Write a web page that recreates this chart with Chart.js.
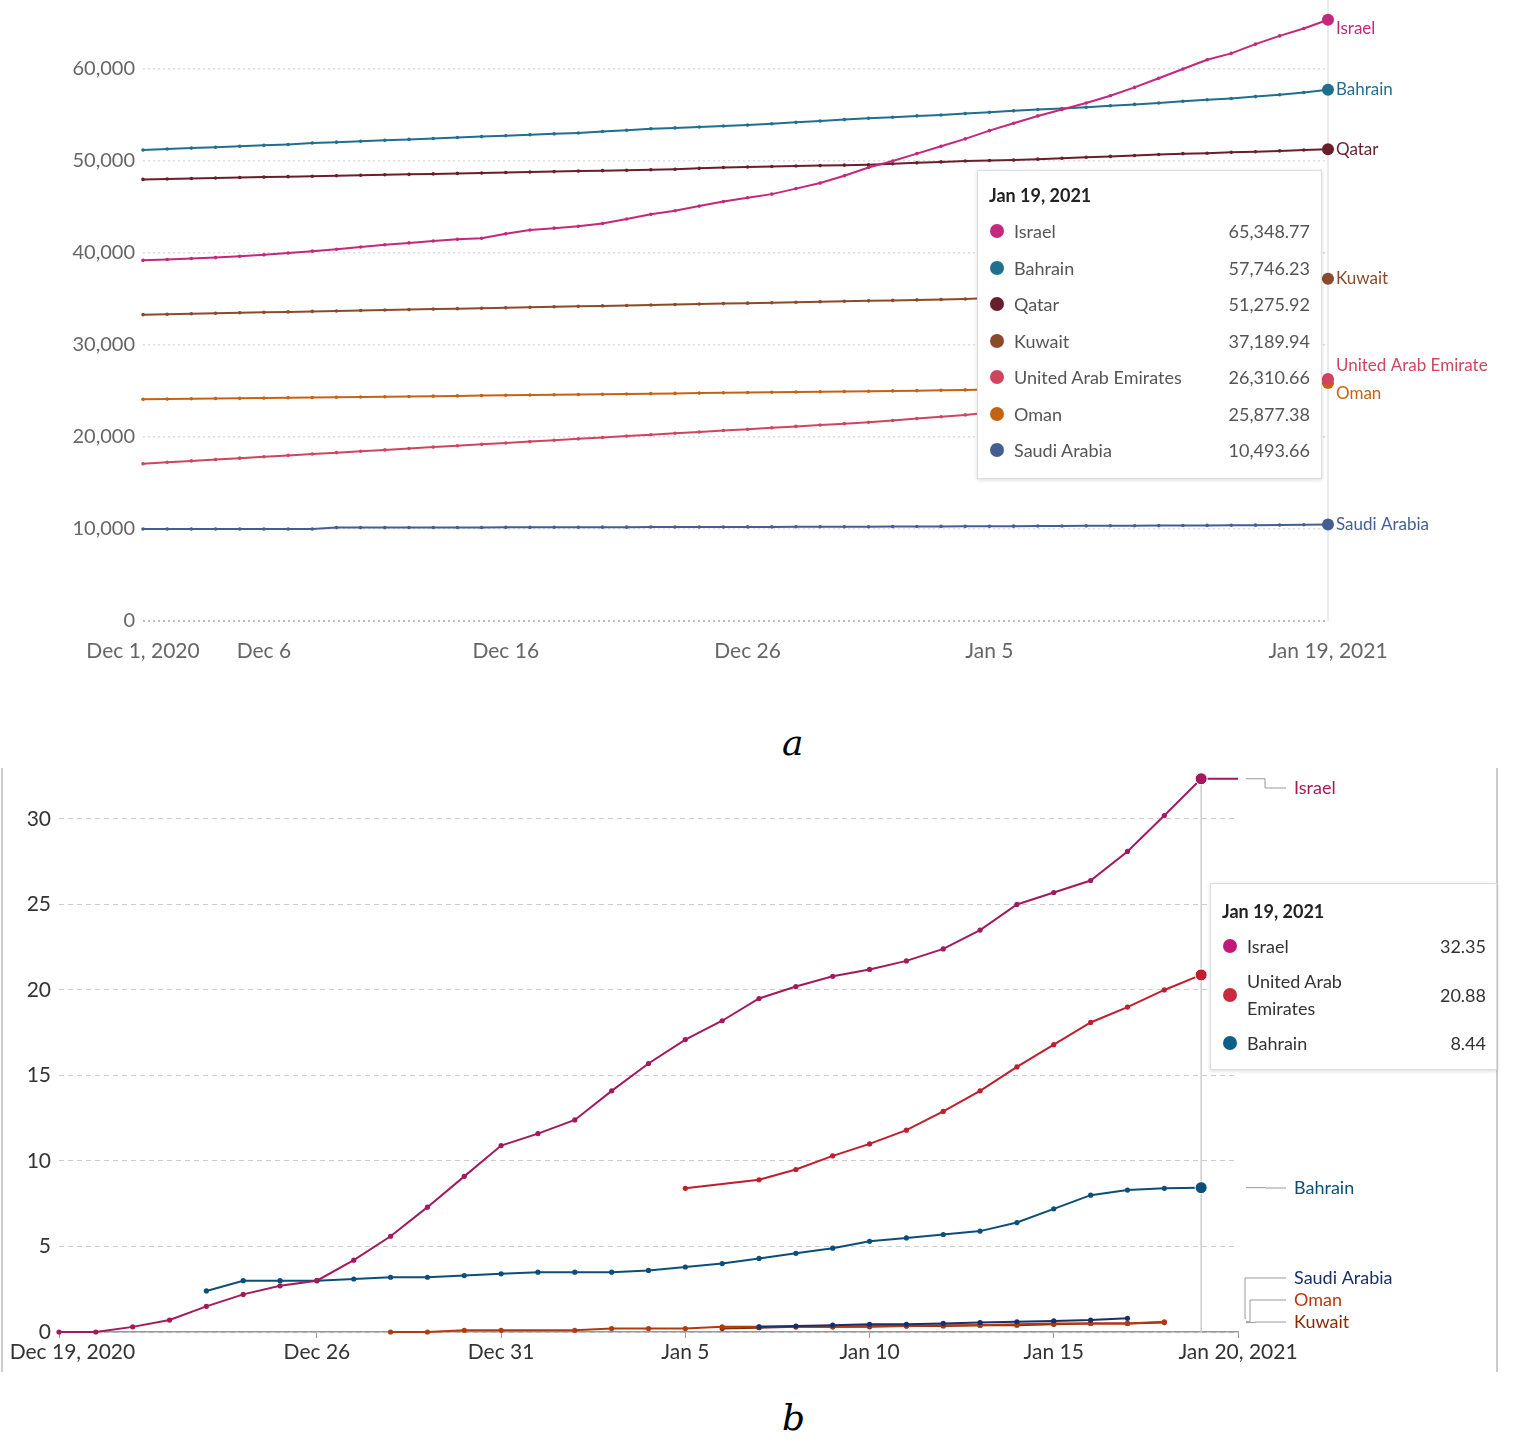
<!DOCTYPE html>
<html>
<head>
<meta charset="utf-8">
<script src="https://cdn.jsdelivr.net/npm/chart.js@4"></script>
<style>
  body { margin: 0; background: #fff; font-family: Lato, sans-serif; }
  #page { position: relative; width: 1513px; height: 1449px; overflow: hidden; }
  .box { position: absolute; }
  .tip { position: absolute; background: #fff; border: 1px solid #ddd; box-shadow: 0 1px 4px rgba(0,0,0,0.15); }
  .dot { position: absolute; width: 14px; height: 14px; border-radius: 50%; }
  .letter { position: absolute; font-family: "DejaVu Serif", serif; font-style: italic; font-size: 36px; }
  .frame { position: absolute; top: 768px; width: 2px; height: 604px; background: #ccc; }
</style>
</head>
<body>
<div id="page">
  <div class="box" style="left:0;top:0;width:1513px;height:680px"><canvas id="chartA"></canvas></div>
  <div class="letter" style="left:782px;top:722px">a</div>
  <div class="frame" style="left:1px"></div>
  <div class="frame" style="left:1496px"></div>
  <div class="box" style="left:0;top:765px;width:1513px;height:610px"><canvas id="chartB"></canvas></div>
  <div class="letter" style="left:782px;top:1397px">b</div>
  <div id="tipA" class="tip" style="left:977px;top:170px;width:343px;height:307px;color:#555;font-size:18px"></div>
  <div id="tipB" class="tip" style="left:1210px;top:883px;width:285px;height:185px;color:#333;font-size:18px"></div>
</div>
<script>
// ---- chart a: Dec 1, 2020 .. Jan 19, 2021 (day index 0..49)
const aTickDays = [0, 5, 15, 25, 35, 49];
const aTickLabels = ['Dec 1, 2020', 'Dec 6', 'Dec 16', 'Dec 26', 'Jan 5', 'Jan 19, 2021'];
const aIsrael = [39200,39300,39400,39500,39650,39800,40000,40200,40400,40650,
  40900,41100,41300,41500,41600,42100,42500,42700,42900,43200,
  43700,44200,44600,45100,45600,46000,46400,47000,47600,48400,49300,
  50000,50800,51600,52400,53300,54100,54900,55600,56300,57100,
  58000,59000,60000,61000,61700,62700,63600,64400,65348.77];
const aBahrain = [51200,51300,51400,51500,51600,51700,51800,51950,52050,52150,
  52250,52350,52450,52550,52650,52750,52850,52950,53050,53200,
  53350,53500,53600,53700,53800,53900,54050,54200,54350,54500,54650,
  54750,54900,55000,55150,55300,55450,55600,55700,55850,56000,
  56150,56300,56500,56650,56800,57000,57200,57450,57746.23];
const aQatar = [48000,48050,48100,48150,48200,48250,48300,48350,48400,48450,
  48500,48550,48600,48650,48700,48750,48800,48850,48900,48950,
  49000,49050,49100,49200,49300,49350,49400,49450,49500,49550,49600,
  49700,49800,49900,50000,50050,50100,50200,50300,50400,50500,
  50600,50700,50800,50850,50950,51000,51100,51200,51275.92];
const aKuwait = [33300,33350,33400,33450,33500,33550,33600,33650,33700,33750,
  33800,33850,33900,33950,34000,34050,34100,34150,34200,34250,
  34300,34350,34400,34450,34500,34550,34600,34650,34700,34750,34800,
  34850,34900,34950,35000,35100,35200,35300,35450,35600,35750,
  35900,36050,36200,36350,36500,36650,36800,37000,37189.94];
const aUAE = [17100,17250,17400,17550,17700,17850,18000,18150,18300,18450,
  18600,18750,18900,19050,19200,19350,19500,19650,19800,19950,
  20100,20250,20400,20550,20700,20850,21000,21150,21300,21450,21600,
  21800,22000,22200,22400,22650,22900,23150,23400,23650,23900,
  24150,24400,24650,24900,25150,25400,25650,25950,26310.66];
const aOman = [24100,24120,24150,24180,24200,24230,24260,24290,24320,24350,
  24380,24410,24440,24470,24500,24530,24560,24590,24620,24650,
  24680,24710,24740,24770,24800,24830,24860,24890,24920,24950,24980,
  25010,25040,25080,25120,25160,25200,25250,25300,25350,25400,
  25450,25500,25550,25600,25650,25700,25750,25800,25877.38];
const aSaudi = [10000,10000,10000,10000,10000,10000,10000,10000,10150,10150,
  10150,10160,10160,10170,10170,10180,10180,10190,10190,10200,
  10200,10210,10210,10220,10220,10230,10230,10240,10240,10250,10250,
  10260,10270,10280,10290,10300,10310,10320,10330,10340,10350,
  10360,10370,10380,10390,10400,10420,10440,10460,10493.66];

// ---- chart b: Dec 19, 2020 .. Jan 20, 2021 (day index 0..32), null = no data
const bTickDays = [0, 7, 12, 17, 22, 27, 32];
const bTickLabels = ['     Dec 19, 2020', 'Dec 26', 'Dec 31', 'Jan 5', 'Jan 10', 'Jan 15', 'Jan 20, 2021'];
const bIsrael = [0,0,0.3,0.7,1.5,2.2,2.7,3.0,4.2,5.6,7.3,9.1,10.9,11.6,12.4,14.1,15.7,17.1,
  18.2,19.5,20.2,20.8,21.2,21.7,22.4,23.5,25.0,25.7,26.4,28.1,30.2,32.35,32.35];
const bUAE = [null,null,null,null,null,null,null,null,null,null,null,null,null,null,null,null,null,8.4,
  null,8.9,9.5,10.3,11.0,11.8,12.9,14.1,15.5,16.8,18.1,19.0,20.0,20.88,null];
const bBahrain = [null,null,null,null,2.4,3.0,3.0,3.0,3.1,3.2,3.2,3.3,3.4,3.5,3.5,3.5,3.6,3.8,
  4.0,4.3,4.6,4.9,5.3,5.5,5.7,5.9,6.4,7.2,8.0,8.3,8.4,8.44,null];
const bSaudi = [null,null,null,null,null,null,null,null,null,null,null,null,null,null,null,null,null,null,
  null,0.3,0.35,0.4,0.45,0.45,0.5,0.55,0.6,0.65,0.7,0.8,null,null,null];
const bOman = [null,null,null,null,null,null,null,null,null,0,0,0.1,0.1,null,0.1,0.2,0.2,0.2,
  0.3,0.3,0.3,0.3,0.35,0.35,0.4,0.4,0.45,0.5,0.5,0.5,0.6,null,null];
const bKuwait = [null,null,null,null,null,null,null,null,null,null,null,null,null,null,null,null,null,null,
  0.2,0.25,0.3,0.3,0.3,0.35,0.35,0.4,0.4,0.45,0.5,0.5,0.55,null,null];

const aColors = { Israel: '#c4277b', Bahrain: '#1f6f8f', Qatar: '#6a1e2b', Kuwait: '#8b4a2a',
  'United Arab Emirates': '#cf4560', Oman: '#c46316', 'Saudi Arabia': '#455e92' };
const bColors = { Israel: '#a31a5c', 'United Arab Emirates': '#bf1e2e', Bahrain: '#0b4f78',
  'Saudi Arabia': '#17306c', Oman: '#b33a10', Kuwait: '#882b08' };

function days(n) { return Array.from({ length: n }, (_, i) => i); }

function vLine(day, topPx, color) {
  return {
    id: 'vline',
    beforeDatasetsDraw(chart) {
      const { ctx, scales } = chart;
      const x = scales.x.getPixelForValue(day);
      ctx.save();
      ctx.strokeStyle = color; ctx.lineWidth = 1.5;
      ctx.beginPath(); ctx.moveTo(x, topPx); ctx.lineTo(x, scales.y.bottom); ctx.stroke();
      ctx.restore();
    }
  };
}

// chart a end labels
const aLabelDy = { 'United Arab Emirates': -13, Oman: 11, Israel: 9 };
const endLabelsA = {
  id: 'endLabelsA',
  afterDatasetsDraw(chart) {
    const ctx = chart.ctx;
    ctx.save();
    ctx.font = '17px Lato'; ctx.textBaseline = 'middle';
    chart.data.datasets.forEach((ds, i) => {
      const pt = chart.getDatasetMeta(i).data[ds.data.length - 1];
      let name = ds.label === 'United Arab Emirates' ? 'United Arab Emirate' : ds.label;
      ctx.fillStyle = ds.borderColor;
      ctx.fillText(name, pt.x + 8, pt.y + (aLabelDy[ds.label] || 0));
    });
    ctx.restore();
  }
};

const aSeries = [['Israel', aIsrael], ['Bahrain', aBahrain], ['Qatar', aQatar], ['Kuwait', aKuwait],
  ['United Arab Emirates', aUAE], ['Oman', aOman], ['Saudi Arabia', aSaudi]];

new Chart(document.getElementById('chartA'), {
  type: 'line',
  data: {
    labels: days(50),
    datasets: aSeries.map(([name, vals]) => ({
      label: name,
      data: vals.map((v, i) => ({ x: i, y: v })),
      borderColor: aColors[name], backgroundColor: aColors[name],
      borderWidth: 2, pointRadius: ctx => ctx.dataIndex === 49 ? 6 : 1.8, pointBorderWidth: 0,
      clip: false
    }))
  },
  options: {
    responsive: true, maintainAspectRatio: false, animation: false,
    layout: { padding: { top: 23, right: 185, left: 0, bottom: 0 } },
    plugins: { legend: { display: false }, tooltip: { enabled: false } },
    scales: {
      x: {
        type: 'linear', min: 0, max: 49,
        afterBuildTicks: s => { s.ticks = aTickDays.map(v => ({ value: v })); },
        afterFit: s => { s.height = 59; s.paddingLeft = 0; s.paddingRight = 0; },
        ticks: { callback: v => aTickLabels[aTickDays.indexOf(v)], color: '#666', font: { family: 'Lato', size: 21 }, maxRotation: 0, autoSkip: false, padding: 10 },
        grid: { display: false }, border: { display: false }
      },
      y: {
        min: 0, max: 65000,
        afterBuildTicks: s => { s.ticks = [0, 10000, 20000, 30000, 40000, 50000, 60000].map(v => ({ value: v })); },
        afterFit: s => { s.width = 143; },
        ticks: { callback: v => v.toLocaleString('en-US'), color: '#666', font: { family: 'Lato', size: 20 }, padding: 8 },
        grid: { color: ctx => ctx.tick.value === 0 ? '#bbb' : '#ddd', lineWidth: ctx => ctx.tick.value === 0 ? 2 : 1.5, drawTicks: false },
        border: { display: false, dash: [2, 3] }
      }
    }
  },
  plugins: [vLine(49, 0, '#e4e4e4'), endLabelsA]
});

// chart b end labels with connectors
const bLabels = [
  { name: 'Israel', day: 32, labelY: 23 },
  { name: 'Bahrain', day: 31, labelY: 423 },
  { name: 'Saudi Arabia', day: 29, labelY: 513 },
  { name: 'Oman', day: 30, labelY: 535 },
  { name: 'Kuwait', day: 30, labelY: 557 }
];
const endLabelsB = {
  id: 'endLabelsB',
  afterDatasetsDraw(chart) {
    const ctx = chart.ctx;
    const xr = chart.scales.x.right;
    ctx.save();
    ctx.font = '18px Lato'; ctx.textBaseline = 'middle'; ctx.lineWidth = 1;
    bLabels.forEach((l, k) => {
      const i = chart.data.datasets.findIndex(d => d.label === l.name);
      const ds = chart.data.datasets[i];
      const py = chart.scales.y.getPixelForValue(ds.data[l.day].y);
      const elbow = xr + 17 - (k >= 2 ? (4 - k) * 5 : -10);
      ctx.strokeStyle = '#999';
      ctx.beginPath();
      ctx.moveTo(xr + 8, py); ctx.lineTo(elbow, py); ctx.lineTo(elbow, l.labelY); ctx.lineTo(xr + 48, l.labelY);
      ctx.stroke();
      ctx.fillStyle = ds.borderColor;
      ctx.fillText(l.name, xr + 56, l.labelY);
    });
    ctx.restore();
  }
};

const bSeries = [['Israel', bIsrael], ['United Arab Emirates', bUAE], ['Bahrain', bBahrain],
  ['Saudi Arabia', bSaudi], ['Oman', bOman], ['Kuwait', bKuwait]];

new Chart(document.getElementById('chartB'), {
  type: 'line',
  data: {
    labels: days(33),
    datasets: bSeries.map(([name, vals]) => ({
      label: name,
      data: vals.map((v, i) => ({ x: i, y: v })),
      borderColor: bColors[name], backgroundColor: bColors[name],
      borderWidth: 2, spanGaps: true, clip: false,
      pointRadius: ctx => (ctx.dataIndex === 31 && ['Israel', 'United Arab Emirates', 'Bahrain'].includes(name)) ? 6 : 2.6,
      pointBorderWidth: ctx => ctx.dataIndex === 31 ? 1 : 0, pointBorderColor: '#fff'
    }))
  },
  options: {
    responsive: true, maintainAspectRatio: false, animation: false,
    layout: { padding: { top: 10, right: 275, left: 0, bottom: 0 } },
    plugins: { legend: { display: false }, tooltip: { enabled: false } },
    scales: {
      x: {
        type: 'linear', min: 0, max: 32,
        afterBuildTicks: s => { s.ticks = bTickDays.map(v => ({ value: v })); },
        afterFit: s => { s.height = 43; s.paddingLeft = 0; s.paddingRight = 0; },
        ticks: { callback: v => bTickLabels[bTickDays.indexOf(v)], color: '#333', font: { family: 'Lato', size: 21 }, maxRotation: 0, autoSkip: false, padding: 2 },
        grid: { display: true, drawOnChartArea: false, tickLength: 6, color: '#999' },
        border: { display: true, color: '#999', width: 1.5 }
      },
      y: {
        min: 0, max: 31.95,
        afterBuildTicks: s => { s.ticks = [0, 5, 10, 15, 20, 25, 30].map(v => ({ value: v })); },
        afterFit: s => { s.width = 59; },
        ticks: { color: '#333', font: { family: 'Lato', size: 21 }, padding: 8 },
        grid: { color: '#ccc', lineWidth: 1, drawTicks: false },
        border: { display: false, dash: [5, 4] }
      }
    }
  },
  plugins: [vLine(31, 10, '#ccc'), endLabelsB]
});

// tooltip boxes
function fillTip(el, title, rows, o) {
  let html = `<div style="position:absolute;left:${o.pad}px;top:${o.titleY}px;font-weight:bold;color:#222">${title}</div>`;
  rows.forEach(r => {
    html += `<span class="dot" style="left:${o.dotX}px;top:${r.y - 7}px;background:${r.color}"></span>`;
    if (r.ty !== undefined) {
      html += `<div style="position:absolute;left:${o.textX}px;top:${r.ty}px;line-height:27px">${r.name}</div>`;
    } else {
      html += `<div style="position:absolute;left:${o.textX}px;top:${r.y - 11}px;line-height:22px">${r.name}</div>`;
    }
    html += `<div style="position:absolute;right:${o.valRight}px;top:${r.y - 11}px;line-height:22px">${r.value}</div>`;
  });
  el.innerHTML = html;
}
const fmt = v => v.toLocaleString('en-US', { minimumFractionDigits: 2, maximumFractionDigits: 2 });
fillTip(document.getElementById('tipA'), 'Jan 19, 2021',
  aSeries.map(([name, vals], k) => ({ name, color: aColors[name], value: fmt(vals[49]), y: 60 + k * 36.5 })),
  { pad: 11, titleY: 13, dotX: 12, textX: 36, valRight: 11 });
fillTip(document.getElementById('tipB'), 'Jan 19, 2021',
  [
    { name: 'Israel', color: '#c2187a', value: fmt(bIsrael[31]), y: 62 },
    { name: 'United Arab<br>Emirates', color: '#cc2a3c', value: fmt(bUAE[31]), y: 111, ty: 84 },
    { name: 'Bahrain', color: '#0b5f8a', value: fmt(bBahrain[31]), y: 159 }
  ],
  { pad: 11, titleY: 16, dotX: 12, textX: 36, valRight: 10 });
</script>
</body>
</html>
